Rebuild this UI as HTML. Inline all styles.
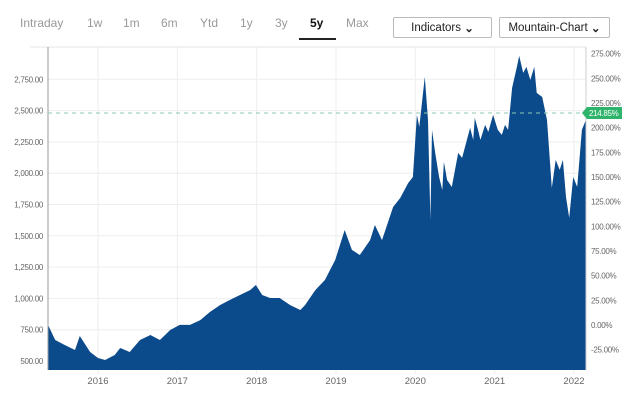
<!DOCTYPE html>
<html><head><meta charset="utf-8"><style>
body{margin:0;background:#fff;font-family:"Liberation Sans",sans-serif;}
.tab{position:absolute;top:16px;font-size:12px;color:#999;}
.btn{position:absolute;top:17px;height:21px;border:1px solid #bbb;border-radius:2px;font-size:11.5px;color:#222;display:flex;align-items:center;justify-content:center;box-sizing:border-box;}
</style></head><body>
<div>
<span class="tab" style="left:20px">Intraday</span>
<span class="tab" style="left:87px">1w</span>
<span class="tab" style="left:123px">1m</span>
<span class="tab" style="left:161px">6m</span>
<span class="tab" style="left:200px">Ytd</span>
<span class="tab" style="left:240px">1y</span>
<span class="tab" style="left:275px">3y</span>
<span class="tab" style="left:310px;color:#111;font-weight:bold">5y</span>
<div style="position:absolute;left:299px;top:38px;width:37px;height:2px;background:#222"></div>
<span class="tab" style="left:346px">Max</span>
</div>
<div class="btn" style="left:393px;width:99px">Indicators&nbsp;<b>&#x2304;</b></div>
<div class="btn" style="left:499px;width:111px">Mountain-Chart&nbsp;<b>&#x2304;</b></div>
<svg id="c" width="640" height="409" style="position:absolute;left:0;top:0"></svg>
<script>
const years=[15.37,15.46,15.58,15.71,15.77,15.90,16.00,16.09,16.21,16.28,16.40,16.53,16.66,16.78,16.91,17.03,17.16,17.29,17.41,17.54,17.66,17.79,17.92,17.99,18.07,18.17,18.29,18.42,18.55,18.61,18.74,18.86,18.99,19.11,19.20,19.30,19.43,19.49,19.58,19.72,19.81,19.91,19.97,20.02,20.05,20.12,20.16,20.19,20.21,20.25,20.30,20.34,20.36,20.40,20.46,20.54,20.59,20.69,20.73,20.75,20.79,20.82,20.88,20.92,20.98,21.04,21.09,21.13,21.17,21.22,21.28,21.31,21.36,21.40,21.45,21.50,21.53,21.60,21.66,21.72,21.77,21.82,21.86,21.90,21.94,21.99,22.04,22.10,22.15];
const prices=[788,668,628,588,700,572,524,508,548,604,572,668,708,668,748,788,788,827,891,947,987,1027,1067,1107,1027,1003,1003,947,907,947,1067,1147,1307,1546,1387,1347,1466,1586,1466,1730,1802,1922,1970,2466,2370,2769,2426,1627,2346,2162,1970,1866,2090,1946,1890,2162,2122,2362,2266,2442,2346,2266,2386,2330,2466,2346,2306,2386,2346,2681,2849,2937,2801,2849,2745,2849,2641,2609,2426,1882,2106,2026,2106,1810,1643,1970,1890,2346,2426];
const leftTicks=[500,750,1000,1250,1500,1750,2000,2250,2500,2750];
const pctTicks=[-25,0,25,50,75,100,125,150,175,200,225,250,275];
const yearTicks=[2016,2017,2018,2019,2020,2021,2022];
const lastPct=214.85;
const basePrice=788;
const X0=48,X1=586,T=47,B=370;
const x=y=>98+(y-16)*79.33;
const yp=p=>361-(p-500)/250*31.3;
const ypct=v=>yp(basePrice*(1+v/100));
const s=document.getElementById('c'),NS='http://www.w3.org/2000/svg';
function el(t,a,txt){const e=document.createElementNS(NS,t);for(const k in a)e.setAttribute(k,a[k]);if(txt!=null)e.textContent=txt;s.appendChild(e);return e;}
let e=el('line',{x1:30,x2:X1,y1:T,y2:T,stroke:'#e6e6e6'});

leftTicks.forEach(t=>{const g=el('line',{x1:X0,x2:X1,y1:yp(t),y2:yp(t),stroke:'#eee'});

const l=el('text',{x:X0-5,y:yp(t)+3,'text-anchor':'end','font-size':8,fill:'#666','letter-spacing':'-0.3'},t.toLocaleString('en-US',{minimumFractionDigits:2}));
});
yearTicks.forEach(t=>{const g=el('line',{x1:x(t-2000),x2:x(t-2000),y1:T,y2:B+4,stroke:'#eee'});

const l=el('text',{x:x(t-2000),y:384,'text-anchor':'middle','font-size':9.5,fill:'#666'},t);
});
let d='M'+x(years[0])+','+B;years.forEach((v,i)=>d+=' L'+x(v).toFixed(1)+','+yp(prices[i]).toFixed(1));
d+=' L'+x(years[years.length-1])+','+B+'Z';
e=el('path',{d:d,fill:'#0b4a8b'});

e=el('line',{x1:X0,x2:X0,y1:T,y2:B,stroke:'#999'});

e=el('line',{x1:X1,x2:X1,y1:T,y2:B,stroke:'#ccc'});

pctTicks.forEach(t=>{const l=el('text',{x:X1+5,y:ypct(t)+3,'font-size':8,fill:'#666','letter-spacing':'-0.3'},t.toFixed(2)+'%');
});
const ly=ypct(lastPct);
e=el('line',{x1:X0,x2:X1,y1:ly,y2:ly,stroke:'#8cc9b0','stroke-dasharray':'4,4'});

e=el('path',{d:`M${X1-4},${ly} L${X1+1},${ly-6} L${X1+36},${ly-6} L${X1+36},${ly+6} L${X1+1},${ly+6}Z`,fill:'#2db36a'});

e=el('text',{x:X1+3,y:ly+3,'font-size':8,fill:'#fff','letter-spacing':'-0.3'},lastPct.toFixed(2)+'%');

</script>
</body></html>
